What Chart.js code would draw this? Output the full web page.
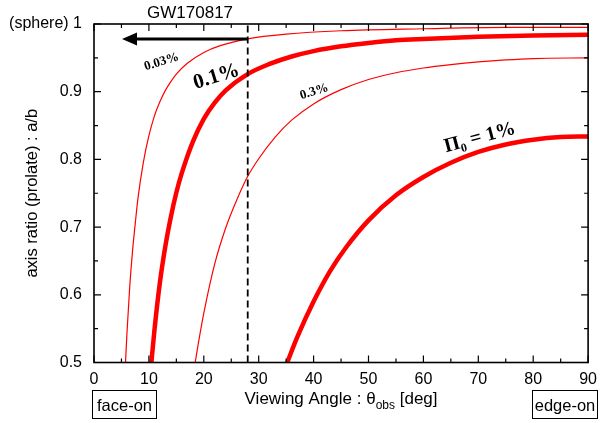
<!DOCTYPE html>
<html><head><meta charset="utf-8">
<script src="https://cdn.jsdelivr.net/npm/chart.js@4/dist/chart.umd.min.js"></script>
<style>html,body{margin:0;padding:0;background:#fff}#wrap{width:604px;height:423px}</style>
</head><body><div id="wrap"><canvas id="c" width="604" height="423"></canvas></div>
<script>
// ---- data ----
const angle003 = [5.74, 6, 6.5, 7, 7.5, 8, 9, 10, 11, 12, 13, 14, 15, 17, 20, 23, 28, 35, 45, 60, 75, 90];
const ratio003 = [0.5, 0.543, 0.611, 0.663, 0.704, 0.742, 0.796, 0.835, 0.864, 0.885, 0.902, 0.915, 0.926, 0.942, 0.958, 0.968, 0.978, 0.985, 0.990, 0.993, 0.995, 0.995];

const angle01 = [10.45, 11, 12, 13, 14, 15, 16, 18, 20, 22, 24, 28, 32, 36, 40, 45, 50, 55, 60, 70, 80, 90];
const ratio01 = [0.5, 0.547, 0.618, 0.672, 0.715, 0.751, 0.780, 0.826, 0.860, 0.884, 0.902, 0.926, 0.941, 0.952, 0.960, 0.967, 0.972, 0.976, 0.978, 0.981, 0.983, 0.984];

const angle03 = [18.43, 19, 20, 22, 24, 26, 28, 30, 33, 36, 40, 45, 50, 55, 60, 65, 70, 75, 80, 90];
const ratio03 = [0.5, 0.528, 0.573, 0.646, 0.699, 0.740, 0.775, 0.801, 0.833, 0.858, 0.882, 0.903, 0.918, 0.928, 0.935, 0.940, 0.944, 0.947, 0.949, 0.950];

const angle1 = [35.2, 37, 40, 43, 46, 50, 55, 60, 65, 70, 75, 80, 85, 90];
const ratio1 = [0.5, 0.537, 0.590, 0.635, 0.671, 0.710, 0.747, 0.774, 0.795, 0.811, 0.822, 0.829, 0.833, 0.834];

const gwAngle = [28, 28];
const gwRatio = [0.5, 1.0];
const arrowRatio = 0.978;
const arrowTipAngle = 5.1;

const curveLabels = ['0.03%', '0.1%', '0.3%', 'Π₀ = 1%'];
const labelAngles = [12.3, 22.3, 40.1, 70.3];
const labelRatios = [0.944, 0.922, 0.900, 0.832];

const xMajor = [0, 10, 20, 30, 40, 50, 60, 70, 80, 90];
const xMinor = [5, 15, 25, 35, 45, 55, 65, 75, 85];
const yMajor = [0.5, 0.6, 0.7, 0.8, 0.9, 1.0];
const yMinor = [0.55, 0.65, 0.75, 0.85, 0.95];

const pts = (xs, ys) => xs.map((v, i) => ({x: v, y: ys[i]}));

const SANS = '"Liberation Sans", Arial, Helvetica, sans-serif';
const SERIF = '"Liberation Serif", "Times New Roman", serif';

const decorPlugin = {
  id: 'decor',
  afterDatasetsDraw(chart) {
    const {ctx, chartArea: a, scales: {x, y}} = chart;
    ctx.save();
    // frame
    ctx.strokeStyle = '#000';
    ctx.lineWidth = 1.6;
    ctx.strokeRect(a.left, a.top, a.right - a.left, a.bottom - a.top);
    // inward ticks on all four sides
    ctx.lineWidth = 1.2;
    ctx.beginPath();
    const xt = (v, len) => {
      const p = x.getPixelForValue(v);
      ctx.moveTo(p, a.bottom); ctx.lineTo(p, a.bottom - len);
      ctx.moveTo(p, a.top); ctx.lineTo(p, a.top + len);
    };
    const yt = (v, len) => {
      const p = y.getPixelForValue(v);
      ctx.moveTo(a.left, p); ctx.lineTo(a.left + len, p);
      ctx.moveTo(a.right, p); ctx.lineTo(a.right - len, p);
    };
    xMajor.forEach(v => xt(v, 7)); xMinor.forEach(v => xt(v, 4));
    yMajor.forEach(v => yt(v, 7)); yMinor.forEach(v => yt(v, 4));
    ctx.stroke();

    // arrow
    const ay = y.getPixelForValue(arrowRatio);
    const ax0 = x.getPixelForValue(gwAngle[0]);
    const ax1 = x.getPixelForValue(arrowTipAngle);
    ctx.lineWidth = 3;
    ctx.beginPath();
    ctx.moveTo(ax0, ay); ctx.lineTo(ax1 + 12, ay);
    ctx.stroke();
    ctx.fillStyle = '#000';
    ctx.beginPath();
    ctx.moveTo(ax1, ay); ctx.lineTo(ax1 + 15, ay - 6.5); ctx.lineTo(ax1 + 15, ay + 6.5);
    ctx.closePath(); ctx.fill();

    // curve labels
    const sizes = [13, 21, 13, 20];
    const rots = [-17, -17, -17, -15];
    curveLabels.forEach((t, i) => {
      ctx.save();
      ctx.translate(x.getPixelForValue(labelAngles[i]), y.getPixelForValue(labelRatios[i]));
      ctx.rotate(rots[i] * Math.PI / 180);
      ctx.font = 'bold ' + sizes[i] + 'px ' + SERIF;
      ctx.textAlign = 'center'; ctx.textBaseline = 'middle';
      ctx.fillStyle = '#000';
      ctx.fillText(t, 0, 0);
      ctx.restore();
    });

    // GW label
    ctx.fillStyle = '#000';
    ctx.font = '17px ' + SANS;
    ctx.textAlign = 'center'; ctx.textBaseline = 'alphabetic';
    ctx.fillText('GW170817', x.getPixelForValue(17.5), 18);

    // x-axis title with subscript
    const p1 = 'Viewing Angle : θ', sub = 'obs', p2 = ' [deg]';
    ctx.font = '17px ' + SANS; const w1 = ctx.measureText(p1).width, w3 = ctx.measureText(p2).width;
    ctx.font = '12px ' + SANS; const w2 = ctx.measureText(sub).width;
    let sx = (a.left + a.right) / 2 - (w1 + w2 + w3) / 2;
    const by = 404;
    ctx.textAlign = 'left';
    ctx.font = '17px ' + SANS; ctx.fillText(p1, sx, by); sx += w1;
    ctx.font = '12px ' + SANS; ctx.fillText(sub, sx, by + 5); sx += w2;
    ctx.font = '17px ' + SANS; ctx.fillText(p2, sx, by);

    // face-on / edge-on boxes
    ctx.lineWidth = 1;
    ctx.font = '16.5px ' + SANS; ctx.textAlign = 'center';
    ctx.strokeRect(92.5, 390.5, 64, 28);
    ctx.fillText('face-on', 124.5, 411);
    ctx.strokeRect(532.5, 390.5, 65, 28);
    ctx.fillText('edge-on', 565, 411);
    ctx.restore();
  }
};

new Chart(document.getElementById('c'), {
  type: 'line',
  data: {
    datasets: [
      {data: pts(gwAngle, gwRatio), borderColor: '#000', borderWidth: 1.8, borderDash: [7, 4], pointRadius: 0, tension: 0},
      {data: pts(angle003, ratio003), borderColor: '#ff0000', borderWidth: 1.2, pointRadius: 0, cubicInterpolationMode: 'monotone'},
      {data: pts(angle01, ratio01), borderColor: '#ff0000', borderWidth: 4.5, pointRadius: 0, cubicInterpolationMode: 'monotone'},
      {data: pts(angle03, ratio03), borderColor: '#ff0000', borderWidth: 1.2, pointRadius: 0, cubicInterpolationMode: 'monotone'},
      {data: pts(angle1, ratio1), borderColor: '#ff0000', borderWidth: 4.5, pointRadius: 0, cubicInterpolationMode: 'monotone'}
    ]
  },
  options: {
    responsive: false,
    animation: false,
    devicePixelRatio: 1,
    layout: {padding: {left: 0, top: 24, right: 13.5, bottom: 0}},
    plugins: {legend: {display: false}, tooltip: {enabled: false}},
    scales: {
      x: {
        type: 'linear', min: 0, max: 90,
        afterFit: s => { s.height = 60.5; },
        afterBuildTicks: s => { s.ticks = xMajor.map(v => ({value: v})); },
        grid: {display: false, drawTicks: false},
        border: {display: false},
        ticks: {padding: 7, color: '#000', font: {family: SANS, size: 16}, maxRotation: 0}
      },
      y: {
        type: 'linear', min: 0.5, max: 1,
        afterFit: s => { s.width = 94; },
        afterBuildTicks: s => { s.ticks = yMajor.map(v => ({value: v})); },
        grid: {display: false, drawTicks: false},
        border: {display: false},
        title: {display: true, text: 'axis ratio (prolate) : a/b', color: '#000', font: {family: SANS, size: 16.5}, padding: {top: 23, bottom: 0}},
        ticks: {padding: 12, color: '#000', font: {family: SANS, size: 16},
          callback: v => Math.abs(v - 1) < 1e-9 ? '(sphere) 1' : v.toFixed(1)}
      }
    }
  },
  plugins: [decorPlugin]
});
</script>
</body></html>
